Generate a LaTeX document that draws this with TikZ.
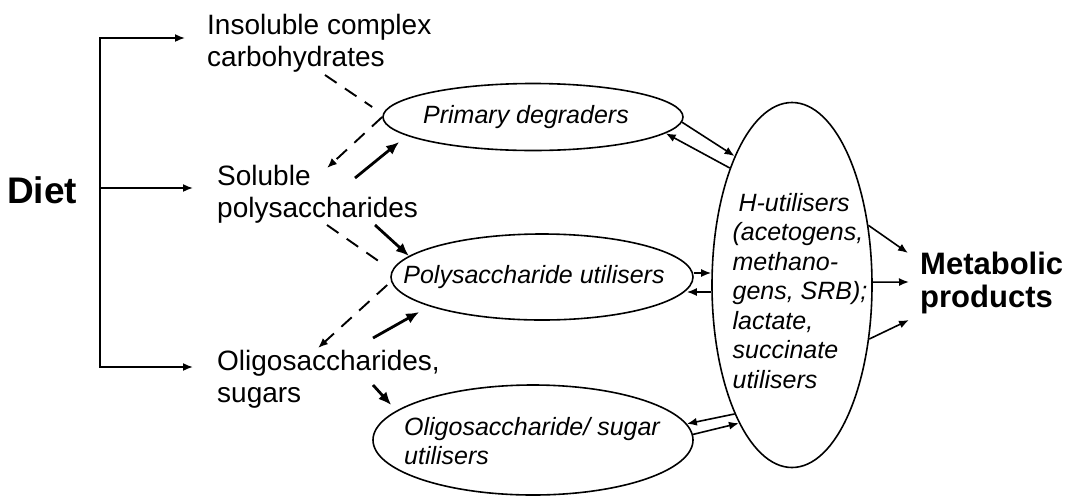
\documentclass[tikz,border=0pt]{standalone}
\usepackage{fontspec}
\setmainfont{Liberation Sans}
\usepackage{tikz}
\usetikzlibrary{arrows.meta,positioning,calc,shapes.geometric}

\begin{document}
\begin{tikzpicture}[>={Latex[length=10pt,width=8pt]},x=1pt,y=-1pt,
  src/.style={anchor=west,inner sep=0pt,align=left,font=\fontsize{28}{32}\selectfont},
  grp/.style={draw,ellipse,line width=1.6pt,inner sep=0pt},
  lab/.style={inner sep=0pt,align=left,font=\fontsize{25}{29.5}\selectfont\itshape},
  big/.style={inner sep=0pt,align=left,font=\bfseries},
  feed/.style={line width=2.8pt,-{Latex[length=13pt,width=11pt]}},
  leak/.style={line width=1.9pt,dash pattern=on 14pt off 10pt},
  flux/.style={line width=1.6pt,->}]
\useasboundingbox (0,0) rectangle (1071,496);
\node[big,font=\fontsize{37}{40}\selectfont\bfseries] (diet) at (42,190) {Diet};
\node[src] (ins) at (207,43) {Insoluble complex\\carbohydrates};
\node[src] (sol) at (217,194) {Soluble\\polysaccharides};
\node[src] (oli) at (217,379) {Oligosaccharides,\\sugars};
\node[grp,minimum width=300pt,minimum height=67pt] (prim) at (533,117) {};
\node[grp,minimum width=302pt,minimum height=86pt] (poly) at (542,277) {};
\node[grp,minimum width=320pt,minimum height=110pt] (olig) at (533,440) {};
\node[grp,minimum width=160pt,minimum height=365pt] (hutil) at (792,285) {};
\node[lab] (primlab) at (526,117) {Primary degraders};
\node[lab] (polylab) at (534,277) {Polysaccharide utilisers};
\node[lab] (oliglab) at (532,441) {Oligosaccharide/ sugar\\utilisers};
\node[lab] (hlab) at (800,291) {\hspace*{6pt}H-utilisers\\(acetogens,\\methano-\\gens, SRB);\\lactate,\\succinate\\utilisers};
\node[big,anchor=west,font=\fontsize{31}{33}\selectfont\bfseries] (metab) at (920,283) {Metabolic\\products};
\coordinate (fork) at (100,188);
\draw[line width=1.7pt,->] (fork) |- ([shift={(-22,-5)}]ins.west);
\draw[line width=1.7pt,->] (fork) -- ([shift={(-24,-6)}]sol.west);
\draw[line width=1.7pt,->] (fork) |- ([shift={(-24,-12)}]oli.west);
\draw[leak] ([shift={(118,32)}]ins.west) -- ([shift={(-10,-10)}]prim.west);
\draw[leak,->] (prim.west) -- ([shift={(110,-26)}]sol.west);
\draw[feed] ([shift={(138,-16)}]sol.west) -- ([shift={(17,25)}]prim.west);
\draw[leak] ([shift={(110,31)}]sol.west) -- ([shift={(-6,-12)}]poly.west);
\draw[leak,->] ([shift={(-3,8)}]poly.west) -- ([shift={(101,-31)}]oli.west);
\draw[feed] ([shift={(158,31)}]sol.west) -- (poly.171);
\draw[feed] ([shift={(156,-41)}]oli.west) -- ([shift={(29,35)}]poly.west);
\draw[feed] ([shift={(156,6)}]oli.west) -- ([shift={(19,-35)}]olig.west);
\draw[flux] (prim.-2) -- (hutil.114);
\draw[flux] (hutil.118) -- (prim.-7);
\draw[flux] ([shift={(0,-4)}]poly.east) -- ([shift={(0,-4)}]poly.east -| hutil.west);
\draw[flux] ([shift={(0,15)}]poly.east -| hutil.west) -- ([shift={(-7,15)}]poly.east);
\draw[flux] (hutil.246.7) -- (olig.6.8);
\draw[flux] (olig.2.9) -- (hutil.249.2);
\draw[flux] (hutil.38) -- ([shift={(-12,-30)}]metab.west);
\draw[flux] (hutil.2) -- ([shift={(-11,-1)}]metab.west);
\draw[flux] (hutil.-35) -- ([shift={(-11,37)}]metab.west);
\end{tikzpicture}
\end{document}
